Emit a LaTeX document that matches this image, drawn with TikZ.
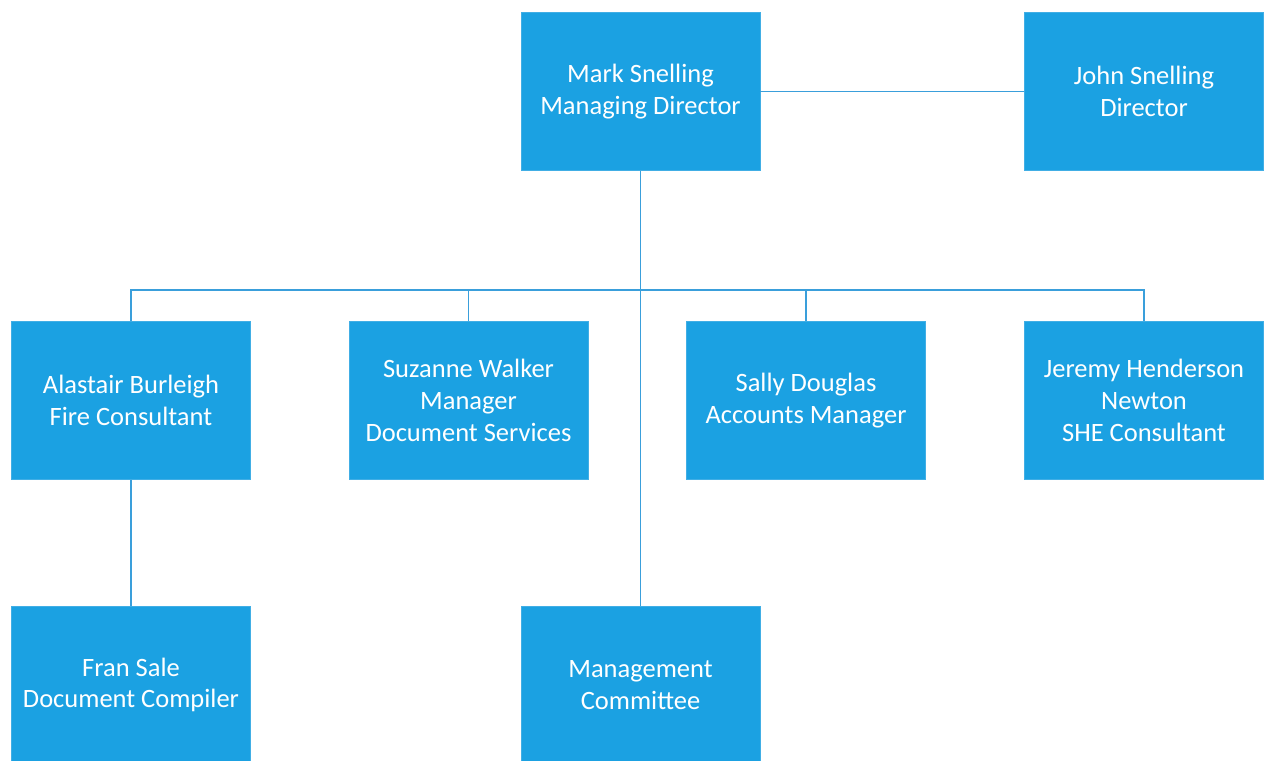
\documentclass[tikz,border=0pt]{standalone}
\usepackage{fontspec}
\setmainfont{Carlito}
\usepackage{tikz}

\definecolor{boxBlue}{HTML}{1BA1E2}
\definecolor{boxEdge}{HTML}{41AEE5}
\definecolor{linkBlue}{HTML}{3A9FDB}

\begin{document}
\begin{tikzpicture}
[x=1pt,y=-1pt,
  personDecorate/.style={shape=rectangle,fill=boxBlue,draw=boxEdge,text=white,%
    minimum width=239pt,minimum height=158pt,inner sep=0pt,align=center,%
    font=\fontsize{26.5}{31.7}\selectfont},
  lineDecorate/.style={-,draw=linkBlue,line width=1.3pt}]
\useasboundingbox (0,0) rectangle (1265,760);
%% boxes
\foreach \nodename/\x/\y/\who in {%
  mark/640.5/91.5/{Mark Snelling\\Managing Director},
  john/1144/91.5/{John Snelling\\Director},
  alastair/131/400.5/{Alastair Burleigh\\Fire Consultant},
  suzanne/468.5/400.5/{Suzanne Walker\\Manager\\Document Services},
  sally/806/400.5/{Sally Douglas\\Accounts Manager},
  jeremy/1144/400.5/{Jeremy Henderson\\Newton\\SHE Consultant},
  fran/131/685/{Fran Sale\\Document Compiler},
  committee/640.5/685/{Management\\Committee}} {
  \node (\nodename) at (\x,\y) [personDecorate] {\who};
}
\coordinate (bus) at (640.5,290);
%% lines
\draw[lineDecorate] (mark.east) -- (john.west);
\draw[lineDecorate] (mark.south) -- (committee.north);
\foreach \child in {alastair, suzanne, sally, jeremy} {
  \draw[lineDecorate] (\child.north) |- (bus);
}
\draw[lineDecorate] (alastair.south) -- (fran.north);
\end{tikzpicture}
\end{document}
